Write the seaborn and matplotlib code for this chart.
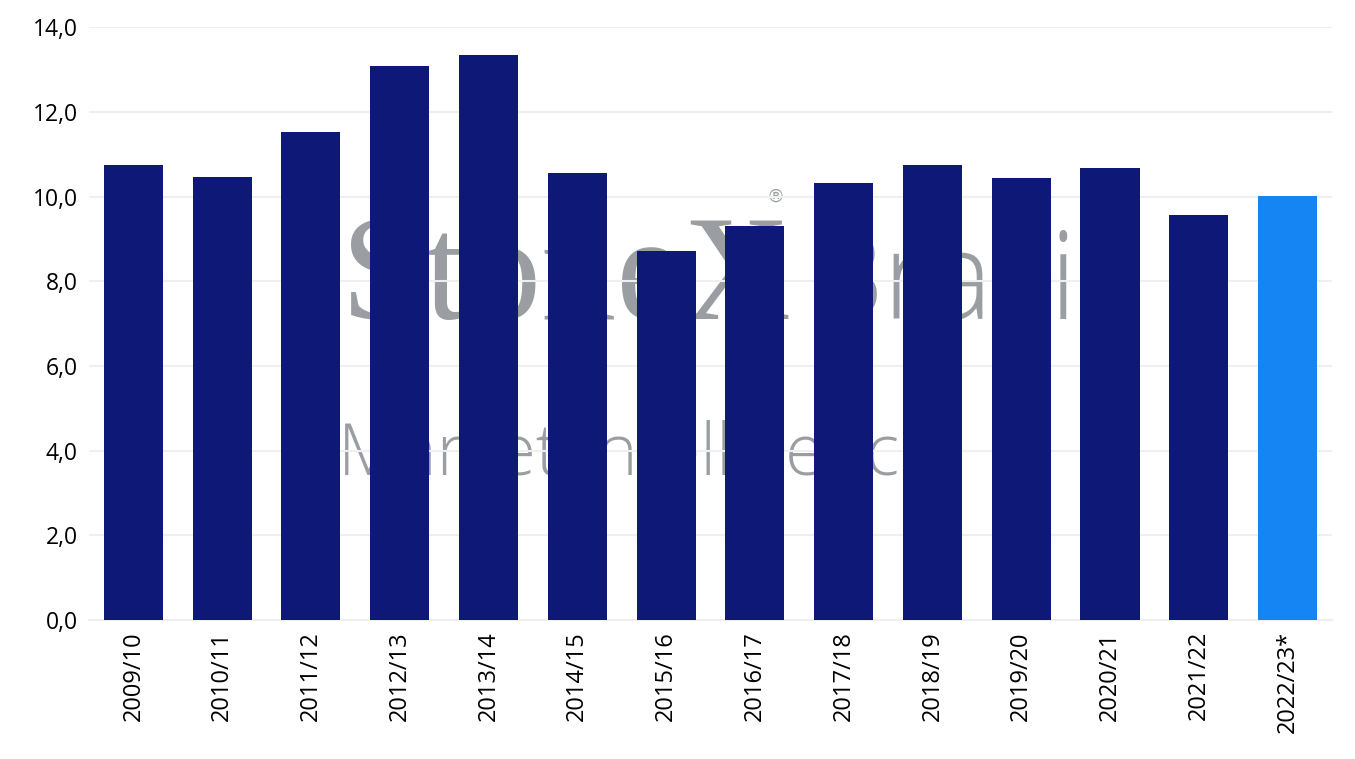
import numpy as np
import pandas as pd
import matplotlib
matplotlib.use("Agg")
import matplotlib.pyplot as plt
import seaborn as sns

seasons = ["2009/10", "2010/11", "2011/12", "2012/13", "2013/14", "2014/15", "2015/16",
           "2016/17", "2017/18", "2018/19", "2019/20", "2020/21", "2021/22", "2022/23*"]
values = [10.74, 10.46, 11.52, 13.08, 13.34, 10.55, 8.71,
          9.30, 10.32, 10.76, 10.43, 10.67, 9.56, 10.01]
bar_colors = ["#0e1876"] * 13 + ["#1485f2"]

df = pd.DataFrame({"season": seasons, "value": values})

sns.set_theme(style="white")
plt.rcParams['font.family'] = ['Open Sans', 'DejaVu Sans']

fig = plt.figure(figsize=(13.55, 7.59), dpi=100)
ax = fig.add_axes([0.0657, 0.183, 0.9173, 0.781])

sns.barplot(data=df, x="season", y="value", hue="season", palette=bar_colors,
            legend=False, width=0.665, saturation=1, linewidth=0, ax=ax, zorder=3)

# watermark behind grid and bars
wm = "#9a9ea3"
ax.text(0.203, 0.508, "StoneX", transform=ax.transAxes, fontsize=108, color=wm,
        family="Liberation Serif", va="baseline", ha="left", zorder=1)
ax.text(0.545, 0.715, "®", transform=ax.transAxes, fontsize=13, color=wm,
        family="DejaVu Sans", va="center", ha="left", zorder=1)
ax.text(0.577, 0.508, "Brasil", transform=ax.transAxes, fontsize=88, color=wm,
        va="baseline", ha="left", zorder=1, fontweight="light")
ax.text(0.2, 0.245, "Market Intelligence", transform=ax.transAxes, fontsize=51, color=wm,
        va="baseline", ha="left", zorder=1, fontweight="light")

ax.set_ylim(0, 14)
ax.set_xlim(-0.5, len(seasons) - 0.5)
yt = np.arange(0, 14.1, 2)
ax.set_yticks(yt)
ax.set_yticklabels([f"{v:.1f}".replace(".", ",") for v in yt], fontsize=16.5)
ax.set_xticks(range(len(seasons)))
ax.set_xticklabels(seasons, rotation=90, fontsize=17)
ax.tick_params(axis="both", length=0, colors="black", pad=8)
ax.set_xlabel("")
ax.set_ylabel("")
ax.set_axisbelow("line")
ax.grid(axis="y", color="#efefef", linewidth=1.5)
for s in ["top", "right", "left"]:
    ax.spines[s].set_visible(False)
ax.spines["bottom"].set_color("#efefef")
ax.spines["bottom"].set_linewidth(1.5)

fig.savefig("out.png", dpi=100)
